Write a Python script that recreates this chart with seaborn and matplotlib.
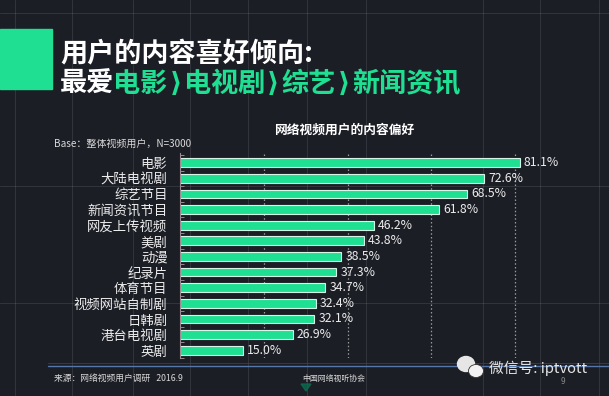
import matplotlib
matplotlib.use("Agg")
import matplotlib.pyplot as plt
import seaborn as sns
import pandas as pd
from matplotlib.lines import Line2D
from matplotlib.patches import Rectangle, Ellipse, Polygon

categories = ["电影", "大陆电视剧", "综艺节目", "新闻资讯节目", "网友上传视频", "美剧", "动漫",
              "纪录片", "体育节目", "视频网站自制剧", "日韩剧", "港台电视剧", "英剧"]
values = [81.1, 72.6, 68.5, 61.8, 46.2, 43.8, 38.5, 37.3, 34.7, 32.4, 32.1, 26.9, 15.0]
value_labels = [f"{v:.1f}%" for v in values]

title_line1 = "用户的内容喜好倾向:"
title_line2_white = "最爱"
title_line2_green = ["电影", "电视剧", "综艺", "新闻资讯"]
title_sep = "⟩"
chart_title = "网络视频用户的内容偏好"
base_note = "Base：整体视频用户，N=3000"
source_note = "来源：网络视频用户调研   2016.9"
org_note = "中国网络视听协会"
watermark = "微信号: iptvott"
page_no = "9"

BG = "#1c1e26"
GREEN = "#1fe092"
TXT = "#ececec"

sns.set_theme(style="dark")
plt.rcParams["font.family"] = ["Noto Sans CJK SC", "DejaVu Sans"]

W, H = 609, 396
fig = plt.figure(figsize=(W / 100, H / 100), dpi=100, facecolor=BG)
renderer = fig.canvas.get_renderer()

def fx(px):
    return px / W

def fy(py):
    return 1 - py / H

# decorative background grid
for x in [15, 72, 133, 190, 248, 307, 366, 483, 540, 599]:
    fig.add_artist(Line2D([fx(x), fx(x)], [0, 1], color="white", alpha=0.10, lw=0.7, zorder=-5))
for y in [13, 186, 303]:
    fig.add_artist(Line2D([0, 1], [fy(y), fy(y)], color="white", alpha=0.10, lw=0.7, zorder=-5))

# title block
fig.add_artist(Rectangle((0, fy(89)), fx(52), fy(29) - fy(89), color=GREEN, zorder=1))
fig.text(fx(60), fy(53), title_line1, color="white", fontsize=19.5, fontweight="bold", va="center", ha="left")

def put(xpx, s, color, family=None):
    kw = {}
    if family:
        kw["family"] = family
    t = fig.text(fx(xpx), fy(84), s, color=color, fontsize=19.5, fontweight="bold",
                 va="center", ha="left", **kw)
    bb = t.get_window_extent(renderer)
    return bb.x1

xcur = put(60, title_line2_white, "white")
for i, word in enumerate(title_line2_green):
    if i > 0:
        xcur = put(xcur + 2, title_sep, GREEN, family=["DejaVu Sans"])
        xcur = put(xcur + 2, word, GREEN)
    else:
        xcur = put(xcur - 1, word, GREEN)

# chart
ax = fig.add_axes([fx(180), fy(358), fx(599) - fx(180), fy(153) - fy(358)])
ax.set_facecolor("none")
df = pd.DataFrame({"category": categories, "value": values})
sns.barplot(data=df, x="value", y="category", orient="h", ax=ax, color=GREEN, saturation=1,
            width=0.56, edgecolor="#d5f5e6", linewidth=0.8)
ax.bar_label(ax.containers[0], labels=value_labels, padding=3, color=TXT, fontsize=8.8)

ax.set_xlim(0, 100)
ax.set_ylim(len(categories) - 1 + 0.47, -0.62)
ax.set_xlabel("")
ax.set_ylabel("")
ax.set_xticks([])
ax.grid(False)
for gx in [20, 40, 60, 80]:
    ax.axvline(gx, color="#cfcfcf", ls=(0, (1.2, 1.8)), lw=0.9, alpha=0.7, zorder=0)
for s in ["top", "right", "bottom"]:
    ax.spines[s].set_visible(False)
ax.spines["left"].set_visible(True)
ax.spines["left"].set_color("#9a8a92")
ax.spines["left"].set_linewidth(0.8)
ax.tick_params(axis="y", which="major", length=0, pad=9, labelsize=9.6, labelcolor=TXT)
ax.set_yticks([i + 0.5 for i in range(-1, len(categories))], minor=True)
ax.tick_params(axis="y", which="minor", length=3, direction="in", color="#9a8a92", width=0.7, left=True)

# chart texts
fig.text(fx(344), fy(130), chart_title, color="white", fontsize=9.2, fontweight="bold", ha="center", va="center")
fig.text(fx(54), fy(144), base_note, color="#d8d8d8", fontsize=7.2, ha="left", va="center")

# footer
fig.add_artist(Line2D([fx(48), 1], [fy(366), fy(366)], color="#5577aa", lw=1.0, zorder=2))
fig.add_artist(Line2D([fx(48), 1], [fy(363), fy(363)], color="#5a4a40", lw=0.6, alpha=0.7, zorder=2))
fig.text(fx(54), fy(378), source_note, color="#d8d8d8", fontsize=6.3, ha="left", va="center")
fig.text(fx(302), fy(378), org_note, color="#d8d8d8", fontsize=5.7, ha="left", va="center")
fig.add_artist(Polygon([[fx(301), fy(384)], [fx(311), fy(384)], [fx(306), fy(391)]], closed=True,
                       color="#0e6a4e", alpha=0.8))
fig.text(fx(563), fy(381), page_no, color="#888888", fontsize=6, ha="center", va="center")

# watermark
fig.add_artist(Ellipse((fx(466), fy(364)), fx(17), fx(15) * W / H, color="#e6e6e6", zorder=3))
fig.add_artist(Ellipse((fx(476), fy(371)), fx(15), fx(13) * W / H, color="#f2f2f2", ec="#333333", lw=0.6, zorder=4))
fig.text(fx(489), fy(368), watermark, color="#e6e6e6", fontsize=10.6, ha="left", va="center")

fig.savefig("out.png", dpi=100, facecolor=BG)
